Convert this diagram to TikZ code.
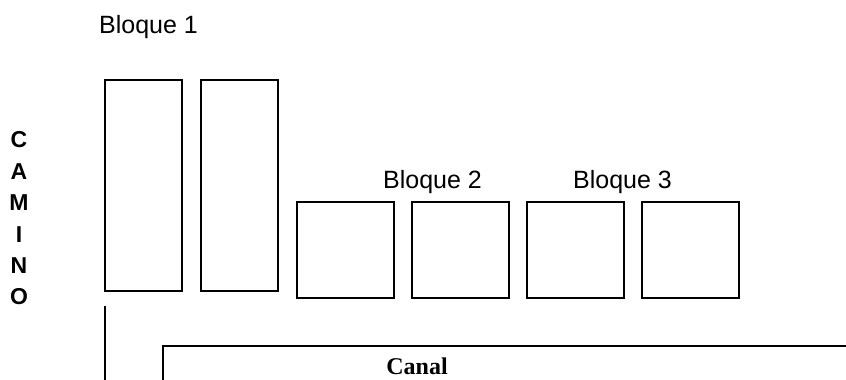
\documentclass[tikz,border=0pt]{standalone}
\usepackage{fontspec}
\setmainfont{Liberation Sans}
\newfontfamily\serifbold{Liberation Serif}
\begin{document}
\begin{tikzpicture}[x=1pt,y=-1pt,
  plot/.style={draw=black,line width=1.8pt},
  edge/.style={draw=black,line width=1.8pt},
  blabel/.style={anchor=base west,inner sep=0pt,font=\fontsize{25}{25}\selectfont},
  road/.style={inner sep=0pt,font=\bfseries\fontsize{23}{23}\selectfont}]
\useasboundingbox (0,0) rectangle (846,380);
% Bloque 1 plots
\draw[plot] (105,80) rectangle (182,291);
\draw[plot] (201,80) rectangle (278,291);
% Bloque 2 and 3 plots
\draw[plot] (297,202) rectangle (394,298);
\draw[plot] (412,202) rectangle (509,298);
\draw[plot] (527,202) rectangle (624,298);
\draw[plot] (642,202) rectangle (739,298);
% labels
\node[blabel] (b1) at (99,33) {Bloque 1};
\node[blabel] (b2) at (383,188) {Bloque 2};
\node[blabel] (b3) at (573,188) {Bloque 3};
% CAMINO
\node[road] (c1) at (19,140) {C};
\node[road] (c2) at (19,171.5) {A};
\node[road] (c3) at (19,203) {M};
\node[road] (c4) at (19,234.5) {I};
\node[road] (c5) at (19,266) {N};
\node[road] (c6) at (19,297) {O};
% road line
\coordinate (r1) at (105,306);
\coordinate (r2) at (105,380);
\draw[edge] (r1) -- (r2);
% canal
\coordinate (k1) at (163,382);
\coordinate (k2) at (163,346);
\coordinate (k3) at (848,346);
\draw[edge] (k1) -- (k2) -- (k3);
\node[anchor=base,inner sep=0pt,font=\serifbold\bfseries\fontsize{24}{24}\selectfont] (canal) at (417,374.5) {Canal};
\end{tikzpicture}
\end{document}
